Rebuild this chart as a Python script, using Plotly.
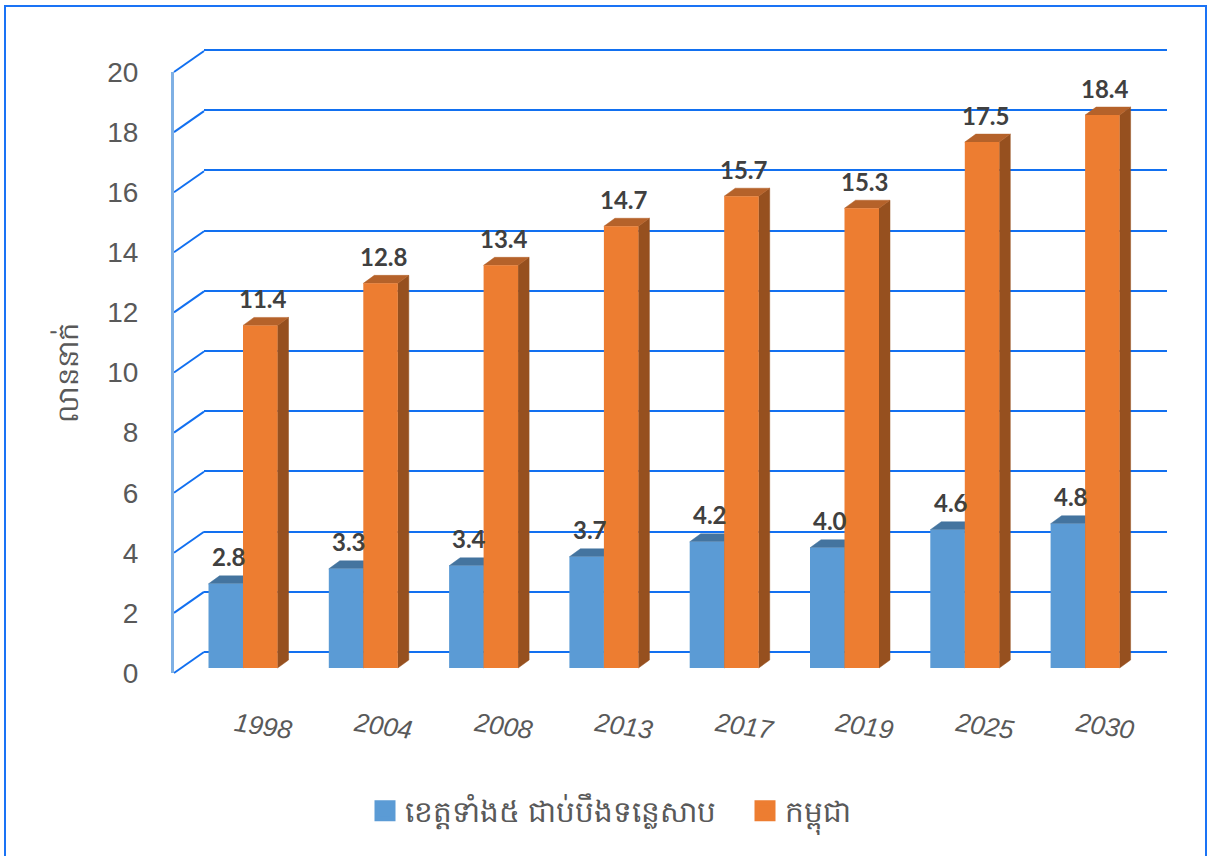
import plotly.graph_objects as go

W, H = 1207, 856

years = ["1998", "2004", "2008", "2013", "2017", "2019", "2025", "2030"]
lake_provinces = [2.8, 3.3, 3.4, 3.7, 4.2, 4.0, 4.6, 4.8]
cambodia = [11.4, 12.8, 13.4, 14.7, 15.7, 15.3, 17.5, 18.4]
series_names = ["ខេត្តទាំង៥ ជាប់បឹងទន្លេសាប", "កម្ពុជា"]
y_title = "លាននាក់"
y_ticks = list(range(0, 21, 2))

# pixel geometry of the pseudo-3D scene
PX_X0, PX_STEP = 243.0, 120.3     # x pixel of the join between the two bars, per group
PX_Y0, PX_UNIT = 668.0, 30.05     # bar baseline pixel, pixels per value unit
WALL_UNIT = 30.1
BAR_W = 34.5
DX, DY = 11.0, 8.0                # bar depth
FRONT_Y0, WALL_Y0 = 673.0, 652.0  # pixel of value 0 on front axis / back wall
FRONT_X, WALL_X, WALL_END = 174.0, 204.0, 1167.0
BLUE, ORANGE = "#5B9BD5", "#ED7D31"
GRID = "#1270F0"

def xu(px):
    return px / PX_STEP

full_x = [(0 - PX_X0) / PX_STEP, (W - PX_X0) / PX_STEP]
full_y = [(PX_Y0 - H) / PX_UNIT, PX_Y0 / PX_UNIT]

def faces(values, left_px):
    top_x, top_y, side_x, side_y = [], [], [], []
    for i, v in enumerate(values):
        l = i + xu(left_px)
        r = l + xu(BAR_W)
        d, h = xu(DX), DY / PX_UNIT
        top_x += [l, r, r + d, l + d, l, None]
        top_y += [v, v, v + h, v + h, v, None]
        side_x += [r, r + d, r + d, r, r, None]
        side_y += [0, h, v + h, v, 0, None]
    return top_x, top_y, side_x, side_y

fig = go.Figure()

# registers the wall subplot (x, y) whose gridlines are the back wall
fig.add_trace(go.Scatter(x=[], y=[], xaxis="x", yaxis="y", showlegend=False, hoverinfo="skip"))

# registers the labelled front axes (x4, y4)
fig.add_trace(go.Scatter(x=[], y=[], xaxis="x4", yaxis="y4", showlegend=False, hoverinfo="skip"))

slx, sly = [], []
for t in y_ticks:
    slx += [(FRONT_X - PX_X0) / PX_STEP, (WALL_X - PX_X0) / PX_STEP, None]
    sly += [t + (PX_Y0 - FRONT_Y0) / PX_UNIT, t + (PX_Y0 - WALL_Y0) / PX_UNIT, None]
fig.add_trace(go.Scatter(x=slx, y=sly, mode="lines", line=dict(color=GRID, width=2),
                         xaxis="x2", yaxis="y2", showlegend=False, hoverinfo="skip"))

for values, left, top_c, side_c in [
    (lake_provinces, -BAR_W, "#44749F", "#37607F"),
    (cambodia, 0.0, "#B5622A", "#96501F"),
]:
    tx, ty, sx, sy = faces(values, left)
    for xs, ys, c in [(sx, sy, side_c), (tx, ty, top_c)]:
        fig.add_trace(go.Scatter(x=xs, y=ys, mode="lines", fill="toself", fillcolor=c,
                                 line=dict(color=c, width=0.5), xaxis="x2", yaxis="y2",
                                 showlegend=False, hoverinfo="skip"))

idx = list(range(len(years)))
fig.add_trace(go.Bar(x=idx, y=lake_provinces, name=series_names[0], width=xu(BAR_W), offset=-xu(BAR_W),
                     marker=dict(color=BLUE, line=dict(width=0)), xaxis="x3", yaxis="y3", showlegend=False))
fig.add_trace(go.Bar(x=idx, y=cambodia, name=series_names[1], width=xu(BAR_W), offset=0,
                     marker=dict(color=ORANGE, line=dict(width=0)), xaxis="x3", yaxis="y3", showlegend=False))

# legend keys: square markers can be drawn larger than bar swatches
for name, c in zip(series_names, [BLUE, ORANGE]):
    fig.add_trace(go.Scatter(x=[None], y=[None], mode="markers", name=name,
                             marker=dict(symbol="square", size=23, color=c, line=dict(color=c, width=5)),
                             xaxis="x3", yaxis="y3"))

annotations = []
for values, cx in [(lake_provinces, -BAR_W / 2), (cambodia, BAR_W / 2)]:
    for i, v in enumerate(values):
        annotations.append(dict(x=i + xu(cx), y=v, xref="x3", yref="y3", text=f"{v:.1f}", showarrow=False,
                                xshift=3, yshift=27, yanchor="middle",
                                font=dict(family="Lato", size=24, color="#404040", weight="bold")))

hidden = dict(visible=False)
fig.update_layout(
    width=W, height=H, margin=dict(l=0, r=0, t=0, b=0, pad=0, autoexpand=False),
    paper_bgcolor="white", plot_bgcolor="rgba(0,0,0,0)",
    barmode="overlay", annotations=annotations,
    xaxis=dict(domain=[WALL_X / W, WALL_END / W], range=[0, 1], anchor="y", visible=True,
               showgrid=False, showline=False, showticklabels=False, ticks="", zeroline=False),
    yaxis=dict(domain=[0, 1], range=[(WALL_Y0 - H) / WALL_UNIT, WALL_Y0 / WALL_UNIT], anchor="x",
               tickvals=y_ticks, showgrid=True, gridcolor=GRID, gridwidth=2,
               showticklabels=False, ticks="", zeroline=False, showline=False),
    xaxis2=dict(domain=[0, 1], range=full_x, anchor="y2", **hidden),
    yaxis2=dict(domain=[0, 1], range=full_y, anchor="x2", **hidden),
    xaxis3=dict(domain=[0, 1], range=full_x, anchor="y3", **hidden),
    yaxis3=dict(domain=[0, 1], range=full_y, anchor="x3", **hidden),
    xaxis4=dict(domain=[FRONT_X / W, 1], range=[(FRONT_X - PX_X0) / PX_STEP, (W - PX_X0) / PX_STEP],
                anchor="y4", tickvals=idx, ticktext=years, tickangle=8, showgrid=False, zeroline=False,
                showline=False, ticks="", ticklabelstandoff=31, ticklabelshift=-8,
                tickfont=dict(family="Liberation Sans", size=26, color="#595959", style="italic")),
    yaxis4=dict(domain=[(H - FRONT_Y0) / H, (H - (FRONT_Y0 - 601)) / H], range=[0, 20], anchor="x4",
                tickvals=y_ticks, showgrid=False, zeroline=False, showline=True, linecolor="#7FB0E4", linewidth=3,
                ticks="", ticklabelstandoff=27,
                tickfont=dict(family="Liberation Sans", size=28, color="#595959"),
                title=dict(text=y_title, standoff=21,
                           font=dict(family="Noto Sans, Liberation Sans", size=29, color="#595959"))),
    legend=dict(orientation="h", x=365 / W, xanchor="left", y=(H - 811) / H, yanchor="middle",
                entrywidth=335, entrywidthmode="pixels",
                font=dict(family="Noto Sans, Liberation Sans", size=29.5, color="#595959")),
    shapes=[dict(type="rect", xref="paper", yref="paper", x0=5 / W, x1=1206 / W, y0=-0.02, y1=(H - 6) / H,
                 line=dict(color="#1A73F5", width=2), fillcolor="rgba(0,0,0,0)", layer="above")],
)
fig.write_html("out.html", config={"displayModeBar": False}, post_script="document.body.style.margin='0';")
